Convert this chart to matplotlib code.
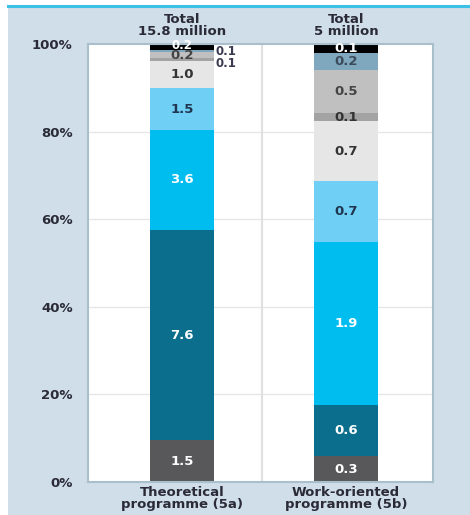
import matplotlib
matplotlib.use("Agg")
import matplotlib.pyplot as plt
from matplotlib.patches import Rectangle
from matplotlib.lines import Line2D
import numpy as np

plt.rcParams['font.family'] = ['DejaVu Sans']

categories = ["Theoretical\nprogramme (5a)", "Work-oriented\nprogramme (5b)"]
totals = ["Total\n15.8 million", "Total\n5 million"]
segments = ["Seg1", "Seg2", "Seg3", "Seg4", "Seg5", "Seg6", "Seg7", "Seg8", "Seg9"]
values_5a = [1.5, 7.6, 3.6, 1.5, 1.0, 0.1, 0.2, 0.1, 0.2]
values_5b = [0.3, 0.6, 1.9, 0.7, 0.7, 0.1, 0.5, 0.2, 0.1]
yticks = [0, 20, 40, 60, 80, 100]
ytick_labels = ["0%", "20%", "40%", "60%", "80%", "100%"]

colors = ["#58585a", "#0a6e8c", "#00bdf0", "#6fcff5", "#e6e6e6",
          "#a3a3a3", "#c0c0c0", "#7fa8bf", "#000000"]
text_colors = ["white", "white", "white", "#1f3550", "#333333",
               "#333333", "#444444", "#3a4a5a", "white"]
dark = "#2b2b38"

W, H = 470, 515
fig = plt.figure(figsize=(W / 100, H / 100), dpi=100)
fig.patch.set_facecolor("white")
fig.add_artist(Rectangle((8 / W, 0), 1 - 8 / W, 1 - 5 / H, transform=fig.transFigure,
                         facecolor="#cfdee8", edgecolor="none", zorder=0))
fig.add_artist(Line2D([8 / W, 1], [1 - 6 / H, 1 - 6 / H], transform=fig.transFigure,
                      color="#3cc0e6", lw=2.2, zorder=1))

ax = fig.add_axes([88 / W, 1 - 482 / H, (433 - 88) / W, (482 - 44) / H])
ax.set_facecolor("white")
ax.set_zorder(2)

xlim = (-0.573, 1.530)
ax.set_xlim(*xlim)
ax.set_ylim(0, 100)
width = 0.39
xpos = [0, 1]

for yv in yticks[1:-1]:
    ax.axhline(yv, color="#e6e6e6", lw=1.0, zorder=0)
ax.axvline(0.488, color="#e0e0e0", lw=1.5, zorder=0)

fs = 9.5
for xi, vals in zip(xpos, [values_5a, values_5b]):
    total = sum(vals)
    pct = [v / total * 100 for v in vals]
    bottom = 0
    for j, (v, p) in enumerate(zip(vals, pct)):
        ax.bar(xi, p, width, bottom=bottom, color=colors[j], edgecolor="none", zorder=2)
        yc = bottom + p / 2
        if xi == 0 and j == 7:
            ax.text(xi + width / 2 + 0.01, yc - 0.1, f"{v:.1f}", ha="left", va="center",
                    fontsize=8.5, fontweight="bold", color="#3a3a50", zorder=4)
        elif xi == 0 and j == 5:
            ax.text(xi + width / 2 + 0.01, yc - 0.9, f"{v:.1f}", ha="left", va="center",
                    fontsize=8.5, fontweight="bold", color="#3a3a50", zorder=4)
        elif xi == 0 and j == 8:
            ax.text(xi, yc + 0.3, f"{v:.1f}", ha="center", va="center", fontsize=8.5,
                    fontweight="bold", color=text_colors[j], zorder=3)
        else:
            ax.text(xi, yc, f"{v:.1f}", ha="center", va="center", fontsize=fs,
                    fontweight="bold", color=text_colors[j], zorder=4)
        bottom += p

for xi, t in zip(xpos, totals):
    ax.text(xi, 101.3, t, ha="center", va="bottom", fontsize=fs, fontweight="bold",
            color=dark, linespacing=0.9)

ax.set_xticks(xpos)
ax.set_xticklabels(categories, fontsize=fs, fontweight="bold", color=dark,
                   linespacing=0.9)
ax.set_yticks(yticks)
ax.set_yticklabels(ytick_labels, fontsize=fs, fontweight="bold", color=dark)
ax.tick_params(axis="both", length=0)
ax.tick_params(axis="y", pad=11)
ax.tick_params(axis="x", pad=3)
for s in ax.spines.values():
    s.set_color("#a9bfcc")
    s.set_linewidth(1.5)

fig.savefig("out.png", dpi=100)
